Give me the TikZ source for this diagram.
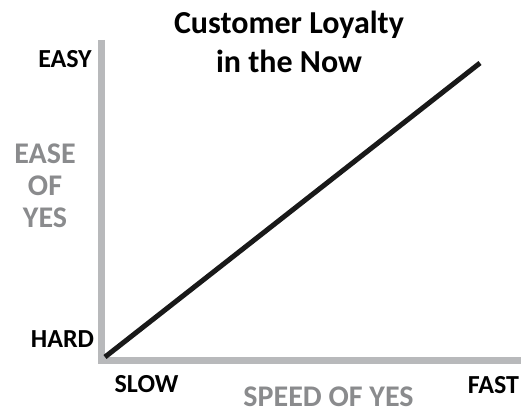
\documentclass[tikz,border=0pt]{standalone}
\usepackage{fontspec}
\setmainfont{Carlito}
\usepackage{xcolor}
\usetikzlibrary{positioning,calc}
\definecolor{axisgray}{HTML}{B8B9BB}
\definecolor{labelgray}{HTML}{8A8B8D}
\tikzset{
  endlabel/.style={font=\fontsize{26}{28}\selectfont\bfseries, inner sep=0pt, anchor=base},
  axislabel/.style={font=\fontsize{30}{32}\selectfont\bfseries, text=labelgray, inner sep=0pt, align=center},
  titletext/.style={font=\fontsize{32}{39}\selectfont\bfseries, inner sep=0pt, align=center},
  axisline/.style={draw=axisgray, line width=7pt},
  trendline/.style={draw=black!90, line width=5pt},
}

\begin{document}
\begin{tikzpicture}[x=1pt, y=1pt]
		\useasboundingbox (0,0) rectangle (521,414);

		% Axis corners
		\coordinate (ytop) at (101,374);
		\coordinate (origin) at (101,53);
		\coordinate (xend) at (521,53);

		% Gray axes
		\draw[axisline] (ytop) -- (origin) -- (xend);

		% Title
		\node[titletext] (title) at (289,372) {Customer Loyalty\\in the Now};

		% End labels
		\node[endlabel] (easy) at (65,346) {EASY};
		\node[endlabel] (hard) at (62.5,66) {HARD};
		\node[endlabel] (slow) at (146.5,21) {SLOW};
		\node[endlabel] (fast) at (493.5,20) {FAST};

		% Axis names
		\node[axislabel] (ease) at (45,228) {EASE\\OF\\YES};
		\node[axislabel, anchor=base] (speed) at (328.5,7) {SPEED OF YES};

		% Trend from hard-slow to easy-fast
		\coordinate (lowend) at (105,57);
		\coordinate (highend) at (480,351);
		\draw[trendline] (lowend) -- (highend);
	\end{tikzpicture}
\end{document}
